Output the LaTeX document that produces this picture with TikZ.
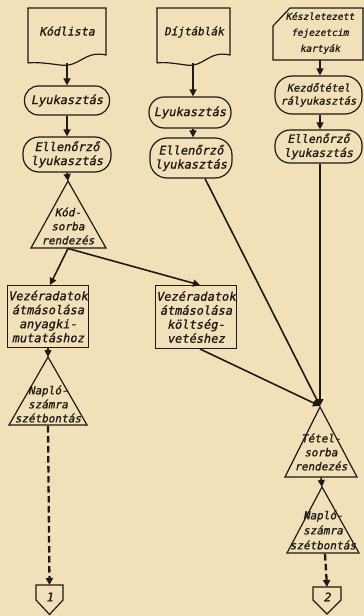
\documentclass[tikz,border=0pt]{standalone}
\usepackage{fontspec}
\newfontfamily\lett[FakeSlant=0.2,FakeBold=1.2]{DejaVu Sans Mono}
\usetikzlibrary{arrows.meta}
\definecolor{paper}{RGB}{242,224,184}
\definecolor{ink}{RGB}{30,26,22}
\begin{document}
\begin{tikzpicture}[x=1pt,y=-1pt,
  every node/.style={font={\lett\fontsize{12}{14}\selectfont}, text=ink, align=center, inner sep=0pt},
  shp/.style={draw=ink, line width=1.2pt, line join=miter},
  termbox/.style={shp, rectangle, rounded corners=14pt},
  box/.style={shp, line width=1pt, rectangle},
  small/.style={font={\lett\fontsize{10.5}{13}\selectfont}},
  trif/.style={font={\lett\fontsize{11}{14}\selectfont}},
  conn/.style={draw=ink, line width=1.6pt, -{Triangle[length=7pt,width=7pt]}},
  dconn/.style={conn, line width=2.3pt, dash pattern=on 6.5pt off 3.5pt},
]
\fill[paper] (0,0) rectangle (364,616);
\useasboundingbox (0,0) rectangle (364,616);

% ---------- left column ----------
\draw[shp] (28,63) -- (28,8) -- (106,8) -- (106,55) .. controls (84,50) and (80,68) .. (60,65) .. controls (45,63) and (35,62) .. (28,63);
\node[font={\lett\fontsize{11.5}{14}\selectfont}] (doc1) at (67,31) {Kódlista};
\coordinate (doc1s) at (67,63);
\node[termbox, minimum width=85pt, minimum height=29pt] (ly1) at (67,100.5) {Lyukasztás};
\node[termbox, rounded corners=16pt, minimum width=88pt, minimum height=35pt] (ell1) at (67,154.5) {Ellenőrző\\lyukasztás};
\draw[shp] (68,181) -- (106,248) -- (31,248) -- cycle;
\coordinate (tri1a) at (68,181);
\coordinate (tri1b) at (68,248.5);
\node[trif] (tri1) at (68,226) {Kód-\\sorba\\rendezés};
\node[box, minimum width=81pt, minimum height=62pt] (vez1) at (48,316.5) {Vezéradatok\\átmásolása\\anyagki-\\mutatáshoz};
\draw[shp] (48,357) -- (87,425) -- (9,425) -- cycle;
\coordinate (nap1a) at (48,357);
\coordinate (nap1b) at (48,426);
\node[trif] (nap1) at (48,404) {Napló-\\számra\\szétbontás};
\draw[shp] (36,585) -- (63,585) -- (63,600) -- (49.5,614.5) -- (36,600) -- cycle;
\node (off1) at (49.5,597) {1};
\coordinate (off1t) at (49.5,585);

% ---------- middle column ----------
\draw[shp] (157,63) -- (157,8) -- (230,8) -- (230,55) .. controls (208,50) and (204,68) .. (186,65) .. controls (172,63) and (164,62) .. (157,63);
\node[font={\lett\fontsize{11}{14}\selectfont}] (doc2) at (194,32) {Díjtáblák};
\coordinate (doc2s) at (193,63);
\node[termbox, rounded corners=15pt, minimum width=82pt, minimum height=31pt] (ly2) at (190,112.5) {Lyukasztás};
\node[termbox, rounded corners=17pt, minimum width=82pt, minimum height=40pt] (ell2) at (191,158) {Ellenőrző\\lyukasztás};
\node[box, minimum width=81pt, minimum height=63pt] (vez2) at (196,317) {Vezéradatok\\átmásolása\\költség-\\vetéshez};

% ---------- right column ----------
\draw[shp] (273,26) -- (290,8) -- (363,8) -- (363,60) -- (273,60) -- cycle;
\node[font={\lett\fontsize{9.5}{16}\selectfont}] (card3) at (320,33) {Készletezett\\fejezetcim\\kartyák};
\coordinate (card3s) at (320,60);
\node[termbox, small, rounded corners=17pt, minimum width=87pt, minimum height=38pt] (kez3) at (318.5,95) {Kezdőtétel\\rályukasztás};
\node[termbox, font={\lett\fontsize{11.5}{14}\selectfont}, rounded corners=15pt, minimum width=87pt, minimum height=33pt] (ell3) at (318.5,146.5) {Ellenőrző\\lyukasztás};
\draw[shp] (320,407) -- (357,477) -- (285,477) -- cycle;
\coordinate (tri3a) at (320,406);
\coordinate (tri3b) at (321,477.5);
\node[trif] (tri3) at (321,452) {Tétel-\\sorba\\rendezés};
\draw[shp] (322,487) -- (359,553) -- (287,553) -- cycle;
\coordinate (nap3a) at (322,487);
\coordinate (nap3b) at (325,554);
\node[font={\lett\fontsize{11}{15}\selectfont}] (nap3) at (323,530) {Napló-\\számra\\szétbontás};
\draw[shp] (313,587) -- (341,587) -- (341,600) -- (327,614) -- (313,600) -- cycle;
\node (off2) at (327,597) {2};
\coordinate (off2t) at (327,587);

% ---------- connectors ----------
\draw[conn] (doc1s) -- (ly1.north);
\draw[conn] (ly1.south) -- (ell1.north);
\draw[conn] (ell1.south) -- (tri1a);
\draw[conn] (tri1b) -- ([xshift=2pt]vez1.north);
\draw[conn] (tri1b) -- ([xshift=4pt]vez2.north);
\draw[conn] (vez1.south) -- (nap1a);
\draw[dconn] (nap1b) -- (off1t);

\draw[conn] (doc2s) -- (doc2s |- ly2.north);
\draw[conn] (doc2s |- ly2.south) -- (doc2s |- ell2.north);
\draw[conn] ([xshift=14pt]ell2.south) -- (tri3a);
\draw[conn] ([xshift=4pt]vez2.south) -- (tri3a);

\draw[conn] (card3s) -- (card3s |- kez3.north);
\draw[conn] (card3s |- kez3.south) -- (card3s |- ell3.north);
\draw[conn] (card3s |- ell3.south) -- (tri3a);
\draw[conn] (tri3b) -- (nap3a);
\draw[dconn] (nap3b) -- (off2t);
\end{tikzpicture}
\end{document}
